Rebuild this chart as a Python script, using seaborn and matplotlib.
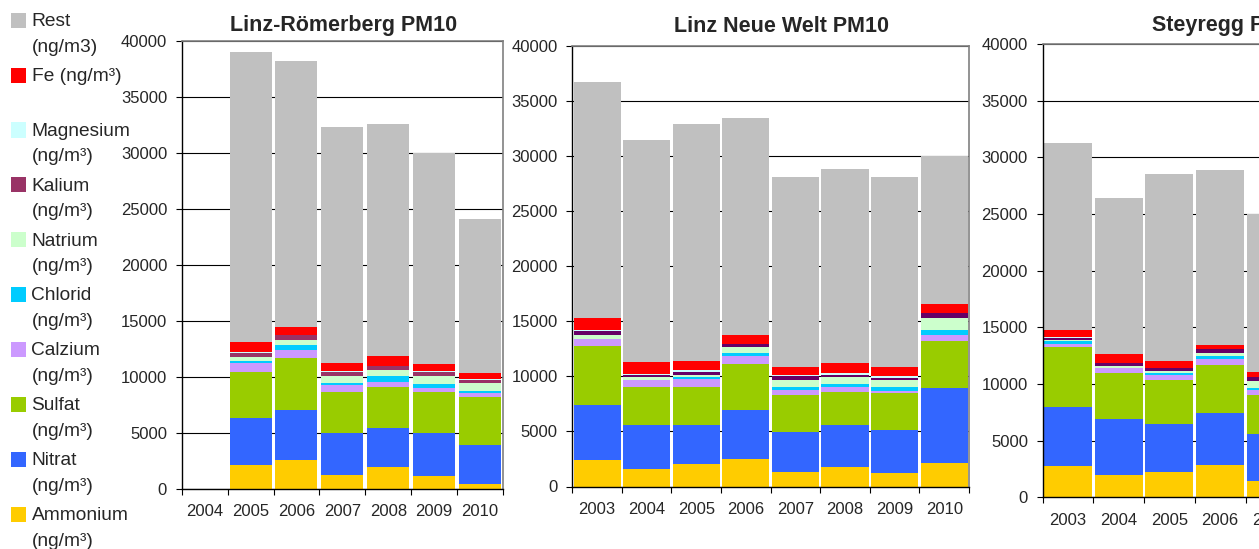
import numpy as np
import matplotlib
matplotlib.use("Agg")
import matplotlib.pyplot as plt
from matplotlib.patches import Rectangle
import seaborn as sns

W, H = 1259, 549

# stacking order, bottom -> top
components = ["Ammonium", "Nitrat", "Sulfat", "Calzium", "Chlorid",
              "Natrium", "Kalium", "Magnesium", "Fe", "Rest"]

colors = {
    "Ammonium": "#FFCC00", "Nitrat": "#3366FF", "Sulfat": "#99CC00",
    "Calzium": "#CC99FF", "Chlorid": "#00CCFF", "Natrium": "#CCFFCC",
    "Kalium": "#993366", "Magnesium": "#CCFFFF", "Fe": "#FF0000",
    "Rest": "#C0C0C0",
}
kalium_dark = "#660066"

# Linz-Römerberg PM10 (ng/m³)
rb_years = ["2004", "2005", "2006", "2007", "2008", "2009", "2010"]
rb_ammonium = [0, 2140, 2590, 1250, 1960, 1160, 450]
rb_nitrat = [0, 4230, 4460, 3750, 3490, 3840, 3480]
rb_sulfat = [0, 4110, 4670, 3690, 3630, 3690, 4280]
rb_calzium = [0, 770, 690, 600, 470, 330, 360]
rb_chlorid = [0, 210, 450, 170, 540, 360, 180]
rb_natrium = [0, 330, 440, 630, 540, 710, 710]
rb_kalium = [0, 390, 450, 390, 350, 390, 300]
rb_magnesium = [0, 90, 40, 40, 40, 40, 40]
rb_fe = [0, 860, 670, 730, 860, 640, 560]
rb_rest = [0, 25870, 23740, 21050, 20720, 18840, 13740]

# Linz Neue Welt PM10 (ng/m³)
nw_years = ["2003", "2004", "2005", "2006", "2007", "2008", "2009", "2010"]
nw_ammonium = [2380, 1630, 2020, 2530, 1270, 1810, 1180, 2110]
nw_nitrat = [5040, 3920, 3530, 4440, 3710, 3740, 3980, 6850]
nw_sulfat = [5340, 3500, 3500, 4160, 3350, 3050, 3350, 4250]
nw_calzium = [630, 630, 720, 730, 450, 450, 180, 550]
nw_chlorid = [30, 20, 180, 270, 270, 270, 360, 450]
nw_natrium = [340, 250, 190, 540, 630, 640, 630, 1080]
nw_kalium = [360, 190, 270, 270, 370, 180, 180, 460]
nw_magnesium = [30, 20, 180, 30, 30, 180, 190, 30]
nw_fe = [1110, 1100, 810, 790, 780, 900, 810, 780]
nw_rest = [21410, 20180, 21500, 19640, 17240, 17580, 17240, 13440]

# Steyregg PM10 (ng/m³), only the visible years
st_years = ["2003", "2004", "2005", "2006", "2007"]
st_ammonium = [2770, 1970, 2210, 2860, 1410]
st_nitrat = [5180, 4920, 4240, 4560, 4150]
st_sulfat = [5270, 4060, 3880, 4240, 3450]
st_calzium = [290, 440, 440, 530, 440]
st_chlorid = [240, 30, 180, 260, 230]
st_natrium = [110, 150, 180, 270, 560]
st_kalium = [240, 260, 260, 350, 360]
st_magnesium = [20, 20, 60, 20, 20]
st_fe = [630, 780, 560, 330, 440]
st_rest = [16550, 13770, 16490, 15480, 13940]

legend_labels = {
    "Rest": "(ng/m3)",
    "Fe": "",
}

sns.set_style("white")
plt.rcParams["font.family"] = ["Liberation Sans", "DejaVu Sans"]


def px_rect(left, top, right, bottom):
    return [left / W, 1 - bottom / H, (right - left) / W, (bottom - top) / H]


def draw_station(ax, years, layers, kalium_color, width):
    bottom = np.zeros(len(years))
    for name, vals in zip(components, layers):
        col = kalium_color if name == "Kalium" else colors[name]
        sns.barplot(x=years, y=vals, order=years, color=col, saturation=1,
                    width=width, errorbar=None, bottom=bottom.copy(),
                    linewidth=0, ax=ax)
        bottom += np.asarray(vals, dtype=float)

    n = len(years)
    ax.set_xlim(-0.5, n - 0.5)
    ax.set_ylim(0, 40000)
    ax.set_yticks(range(0, 40001, 5000))
    ax.set_axisbelow(True)
    ax.yaxis.grid(True, color="black", linewidth=0.8)
    ax.xaxis.grid(False)
    ax.set_xticks(np.arange(n + 1) - 0.5)
    ax.set_xticklabels([])
    ax.set_xticks(np.arange(n), minor=True)
    ax.set_xticklabels(years, minor=True)
    ax.tick_params(axis="x", which="major", bottom=True, direction="out",
                   length=4.5, width=0.8, color="black")
    ax.tick_params(axis="x", which="minor", bottom=True, length=0, pad=11,
                   labelsize=12)
    ax.tick_params(axis="y", left=True, direction="out", length=4.5,
                   width=0.8, color="black", pad=6, labelsize=12)
    ax.set_xlabel("")
    ax.set_ylabel("")
    for s in ["left", "bottom"]:
        ax.spines[s].set_color("black")
        ax.spines[s].set_linewidth(1.0)
    for s in ["top", "right"]:
        ax.spines[s].set_color("#808080")
        ax.spines[s].set_linewidth(1.2)


fig = plt.figure(figsize=(W / 100, H / 100), dpi=100)

ax1 = fig.add_axes(px_rect(181.7, 41, 503, 489))
draw_station(ax1, rb_years,
             [rb_ammonium, rb_nitrat, rb_sulfat, rb_calzium, rb_chlorid,
              rb_natrium, rb_kalium, rb_magnesium, rb_fe, rb_rest],
             colors["Kalium"], 0.915)

ax2 = fig.add_axes(px_rect(572.3, 45.5, 969, 486.5))
draw_station(ax2, nw_years,
             [nw_ammonium, nw_nitrat, nw_sulfat, nw_calzium, nw_chlorid,
              nw_natrium, nw_kalium, nw_magnesium, nw_fe, nw_rest],
             kalium_dark, 0.95)

ax3 = fig.add_axes(px_rect(1042.5, 44, 1042.5 + 5 * 50.75, 497.3))
draw_station(ax3, st_years,
             [st_ammonium, st_nitrat, st_sulfat, st_calzium, st_chlorid,
              st_natrium, st_kalium, st_magnesium, st_fe, st_rest],
             kalium_dark, 0.946)

# chart titles
title_kw = dict(fontsize=15.5, fontweight="bold", va="baseline")
fig.text(343.3 / W, 1 - 30.5 / H, "Linz-Römerberg PM10", ha="center", **title_kw)
fig.text(781.3 / W, 1 - 31.5 / H, "Linz Neue Welt PM10", ha="center", **title_kw)
fig.text(1152.3 / W, 1 - 31 / H, "Steyregg PM10", ha="left", **title_kw)

# legend (top to bottom: reverse stacking order)
step = 54.9
for i, name in enumerate(reversed(components)):
    top = 12.7 + i * step
    fig.patches.append(Rectangle((11 / W, 1 - (top + 15) / H), 15 / W, 15 / H,
                                 transform=fig.transFigure,
                                 facecolor=colors[name], edgecolor="none"))
    base = 26 + i * step
    if name == "Fe":
        first, second = "Fe (ng/m³)", ""
    elif name == "Rest":
        first, second = "Rest", "(ng/m3)"
    else:
        first, second = name, "(ng/m³)"
    fig.text(31.5 / W, 1 - base / H, first, fontsize=13.8, va="baseline")
    if second:
        fig.text(31.5 / W, 1 - (base + 25.5) / H, second, fontsize=13.8,
                 va="baseline")

fig.savefig("out.png", dpi=100)
